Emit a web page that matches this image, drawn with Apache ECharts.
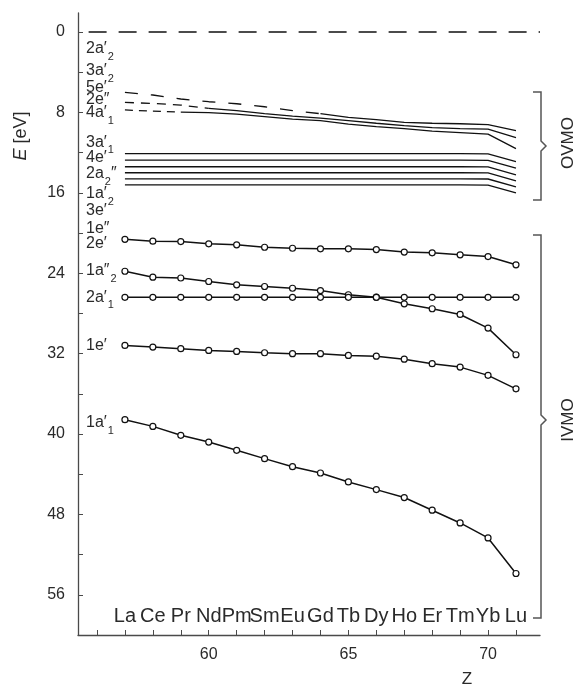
<!DOCTYPE html>
<html>
<head>
<meta charset="utf-8">
<script src="https://cdn.jsdelivr.net/npm/echarts@6/dist/echarts.min.js"></script>
<style>
  html, body { margin: 0; padding: 0; background: #fff; }
  #chart { width: 580px; height: 686px; }
</style>
</head>
<body>
<div id="chart"></div>
<script>
// Lanthanide series, La (Z = 57) to Lu (Z = 71)
const zValues = [57, 58, 59, 60, 61, 62, 63, 64, 65, 66, 67, 68, 69, 70, 71];
const elementNames = ['La', 'Ce', 'Pr', 'Nd', 'Pm', 'Sm', 'Eu', 'Gd', 'Tb', 'Dy', 'Ho', 'Er', 'Tm', 'Yb', 'Lu'];

// Outer valence MO energies, eV
const e5p   = [6.00, 6.26, 6.66, 6.93, 7.13, 7.43, 7.82, 8.12, 8.49, 8.72, 8.99, 9.07, 9.12, 9.21, 9.81];
const e2pp  = [7.00, 7.10, 7.26, 7.60, 7.82, 8.12, 8.37, 8.57, 8.82, 9.07, 9.31, 9.51, 9.61, 9.66, 10.50];
const a4p1  = [7.75, 7.87, 7.97, 8.02, 8.17, 8.42, 8.67, 8.82, 9.15, 9.41, 9.61, 9.86, 10.00, 10.16, 11.60];
const a3p1  = [12.10, 12.10, 12.10, 12.10, 12.10, 12.10, 12.10, 12.10, 12.10, 12.10, 12.10, 12.10, 12.10, 12.12, 12.90];
const e4p   = [12.75, 12.75, 12.75, 12.75, 12.75, 12.75, 12.75, 12.75, 12.75, 12.75, 12.75, 12.75, 12.75, 12.77, 13.55];
const a2pp2 = [13.40, 13.40, 13.40, 13.40, 13.40, 13.40, 13.40, 13.40, 13.40, 13.40, 13.40, 13.40, 13.40, 13.42, 14.20];
const a1p2  = [14.00, 14.00, 14.00, 14.00, 14.00, 14.00, 14.00, 14.00, 14.00, 14.00, 14.00, 14.00, 14.00, 14.02, 14.80];
const e3p   = [14.60, 14.60, 14.60, 14.60, 14.60, 14.60, 14.60, 14.60, 14.60, 14.60, 14.60, 14.60, 14.60, 14.62, 15.40];
const e1pp  = [15.20, 15.20, 15.20, 15.20, 15.20, 15.20, 15.20, 15.20, 15.20, 15.20, 15.20, 15.20, 15.20, 15.22, 16.00];

// Inner valence MO energies, eV
const e2p   = [20.62, 20.81, 20.85, 21.07, 21.17, 21.41, 21.51, 21.57, 21.57, 21.64, 21.89, 21.97, 22.17, 22.34, 23.16];
const a1pp2 = [23.80, 24.39, 24.47, 24.82, 25.15, 25.32, 25.49, 25.72, 26.14, 26.38, 27.04, 27.53, 28.10, 29.46, 32.11];
const a2p1  = [26.40, 26.40, 26.40, 26.40, 26.40, 26.40, 26.40, 26.40, 26.40, 26.40, 26.40, 26.40, 26.40, 26.40, 26.40];
const e1p   = [31.18, 31.35, 31.51, 31.68, 31.78, 31.91, 32.00, 32.00, 32.18, 32.25, 32.55, 33.00, 33.34, 34.16, 35.50];
const a1p1  = [38.57, 39.24, 40.13, 40.80, 41.62, 42.45, 43.25, 43.88, 44.77, 45.53, 46.32, 47.58, 48.85, 50.34, 53.88];

// Vacuum level
const zeroLevel = 0;
const zeroLevelSpan = [55.7, 71.86];

// Axis ticks and labels
const yTickValues = [0, 4, 8, 12, 16, 20, 24, 28, 32, 36, 40, 44, 48, 52, 56];
const yLabelValues = [0, 8, 16, 24, 32, 40, 48, 56];
const xTickValues = [56, 57, 58, 59, 60, 61, 62, 63, 64, 65, 66, 67, 68, 69, 70, 71];
const xLabelValues = [60, 65, 70];

// Orbital labels, top to bottom ({s|..} is a subscript)
const orbitalLabels = [
  '{m|2a′}{s|2}', '{m|3a′}{s|2}', '{m|5e′}', '{m|2e″}', '{m|4a′}{s|1}',
  '{m|3a′}{s|1}', '{m|4e′}', '{m|2a}{s|2}{m|″}', '{m|1a′}{s|2}', '{m|3e′}', '{m|1e″}',
  '{m|2e′}', '{m|1a″}{s|2}', '{m|2a′}{s|1}', '{m|1e′}', '{m|1a′}{s|1}'
];
const groupNames = ['OVMO', 'IVMO'];

// ---- drawing ----
const FONT = '"Liberation Sans", Arial, Helvetica, sans-serif';
const INK = '#111';
const TEXT = '#2a2a2a';
const AXIS = '#4a4a4a';

function toPoints(vals, from = 0, to = zValues.length) {
  const pts = [];
  for (let i = from; i < to; i++) pts.push([zValues[i], vals[i]]);
  return pts;
}

function plainLine(name, vals, from, to, dash) {
  return {
    name, type: 'line', xAxisIndex: 0, yAxisIndex: 0,
    data: toPoints(vals, from, to),
    showSymbol: false, symbol: 'none', silent: true,
    lineStyle: { color: INK, width: 1.3, type: dash || 'solid' },
    z: 3
  };
}

function markedLine(name, vals) {
  return {
    name, type: 'line', xAxisIndex: 0, yAxisIndex: 0,
    data: toPoints(vals),
    symbol: 'circle', symbolSize: 6, showSymbol: true,
    itemStyle: { color: '#fff', borderColor: INK, borderWidth: 1.2 },
    lineStyle: { color: INK, width: 1.5 },
    silent: true, z: 4
  };
}

const series = [
  {
    name: 'vacuum', type: 'line', xAxisIndex: 0, yAxisIndex: 0,
    data: zeroLevelSpan.map(z => [z, zeroLevel]),
    symbol: 'none', silent: true,
    lineStyle: { color: INK, width: 1.5, type: [18, 12] }
  },
  plainLine('5e′ dashed', e5p, 0, 8, [13, 13]),
  plainLine('5e′', e5p, 7),
  plainLine('2e″ dashed', e2pp, 0, 4, [9, 7]),
  plainLine('2e″', e2pp, 3),
  plainLine('4a′1 dashed', a4p1, 0, 3, [8, 6]),
  plainLine('4a′1', a4p1, 2),
  plainLine('3a′1', a3p1),
  plainLine('4e′', e4p),
  plainLine('2a2″', a2pp2),
  plainLine('1a′2', a1p2),
  plainLine('3e′', e3p),
  plainLine('1e″', e1pp),
  markedLine('2e′', e2p),
  markedLine('1a″2', a1pp2),
  markedLine('2a′1', a2p1),
  markedLine('1e′', e1p),
  markedLine('1a′1', a1p1)
];

// Orbital label column, vertical centres in px
const labelCentres = [49, 71, 87.5, 100, 113, 142.5, 157.5, 174, 194, 211, 229, 244, 271, 297.5, 346, 423];
const labelRich = {
  m: { fontSize: 16, fontFamily: FONT, fill: TEXT, lineHeight: 18, verticalAlign: 'top' },
  s: { fontSize: 11, fontFamily: FONT, fill: TEXT, padding: [10, 0, 0, 1], verticalAlign: 'bottom' }
};

function bracket(top, bottom, notch) {
  const xv = 541, xs = 533, xn = 546;
  return {
    type: 'polyline', silent: true,
    shape: { points: [[xs, top], [xv, top], [xv, notch - 5], [xn, notch], [xv, notch + 5], [xv, bottom], [xs, bottom]] },
    style: { stroke: '#555', lineWidth: 1.5, fill: null }
  };
}

const graphics = [];
orbitalLabels.forEach((lbl, i) => {
  graphics.push({
    type: 'text', x: 86, y: labelCentres[i] - 8, silent: true,
    style: { text: lbl, rich: labelRich, align: 'left', verticalAlign: 'top', fontSize: 16, fontFamily: FONT, fill: TEXT }
  });
});
graphics.push(bracket(92, 200, 146));
graphics.push(bracket(235, 618, 420));
graphics.push({
  type: 'text', x: 568, y: 143, rotation: Math.PI / 2, silent: true,
  style: { text: groupNames[0], fontSize: 17, fontFamily: FONT, fill: TEXT, align: 'center', verticalAlign: 'middle' }
});
graphics.push({
  type: 'text', x: 568, y: 420, rotation: Math.PI / 2, silent: true,
  style: { text: groupNames[1], fontSize: 17, fontFamily: FONT, fill: TEXT, align: 'center', verticalAlign: 'middle' }
});
graphics.push({
  type: 'text', x: 21, y: 136, rotation: Math.PI / 2, silent: true,
  style: {
    text: '{i|E} [eV]', fontSize: 18, fontFamily: FONT, fill: TEXT, align: 'center', verticalAlign: 'middle',
    rich: { i: { fontSize: 18, fontFamily: FONT, fontStyle: 'italic', fill: TEXT } }
  }
});
graphics.push({
  type: 'text', x: 467, y: 679, silent: true,
  style: { text: 'Z', fontSize: 17, fontFamily: FONT, fill: TEXT, align: 'center', verticalAlign: 'middle' }
});

const chart = echarts.init(document.getElementById('chart'), null, { renderer: 'canvas' });
chart.setOption({
  animation: false,
  backgroundColor: '#fff',
  textStyle: { fontFamily: FONT },
  grid: { left: 78, right: 40, top: 13, bottom: 51, containLabel: false },
  xAxis: [
    {
      type: 'value', min: 55.32, max: 71.86, position: 'bottom',
      axisLine: { show: true, onZero: false, lineStyle: { color: AXIS, width: 1.3 } },
      axisTick: { show: true, inside: true, length: 5, customValues: xTickValues, lineStyle: { color: AXIS, width: 1 } },
      axisLabel: { show: true, customValues: xLabelValues, fontSize: 16, color: TEXT, margin: 12, fontFamily: FONT },
      splitLine: { show: false }
    },
    {
      type: 'value', min: 55.32, max: 71.86, position: 'bottom',
      axisLine: { show: false, onZero: false }, axisTick: { show: false }, splitLine: { show: false },
      axisLabel: {
        show: true, inside: true, margin: 9, customValues: zValues,
        formatter: v => elementNames[zValues.indexOf(v)] || '',
        fontSize: 20, color: TEXT, fontFamily: FONT
      }
    }
  ],
  yAxis: {
    type: 'value', inverse: true, min: -1.9, max: 60,
    axisLine: { show: true, onZero: false, lineStyle: { color: AXIS, width: 1.3 } },
    axisTick: { show: true, inside: true, length: 5, customValues: yTickValues, lineStyle: { color: AXIS, width: 1 } },
    axisLabel: { show: true, customValues: yLabelValues, fontSize: 16, color: TEXT, margin: 13, fontFamily: FONT },
    splitLine: { show: false }
  },
  series,
  graphic: graphics
});
</script>
</body>
</html>
